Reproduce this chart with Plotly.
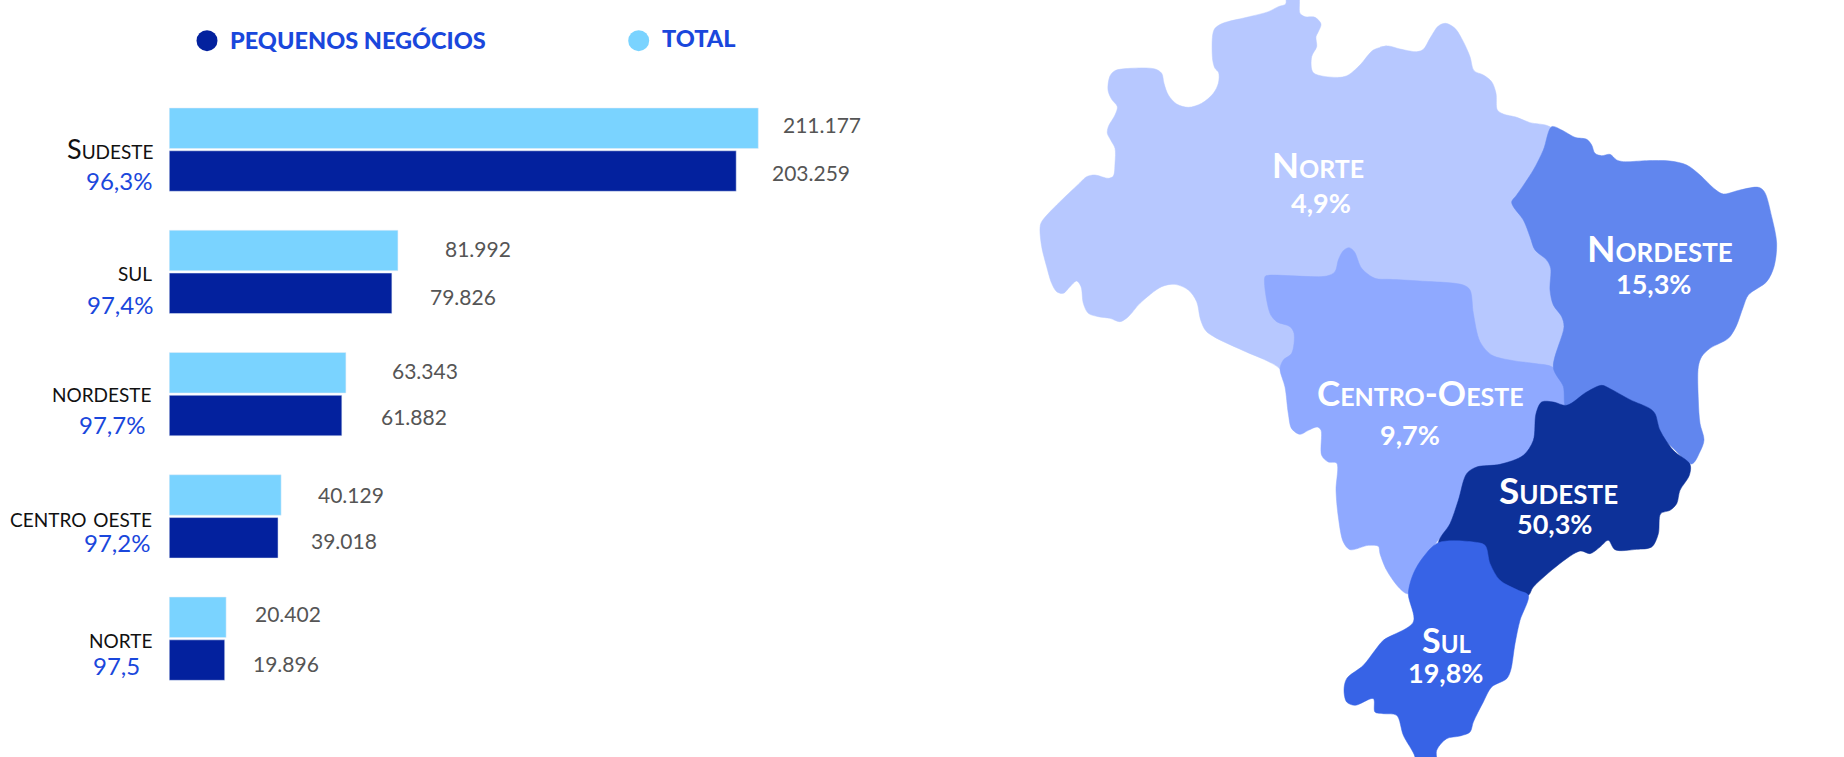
import plotly.graph_objects as go

# ---------- chart data ----------
regions = ["Sudeste", "sul", "nordeste", "centro oeste", "norte"]
total = [211177, 81992, 63343, 40129, 20402]
pequenos = [203259, 79826, 61882, 39018, 19896]
total_text = ["211.177", "81.992", "63.343", "40.129", "20.402"]
pequenos_text = ["203.259", "79.826", "61.882", "39.018", "19.896"]
shares = ["96,3%", "97,4%", "97,7%", "97,2%", "97,5"]

map_names = ["Norte", "Centro-Oeste", "Nordeste", "Sudeste", "Sul"]
map_name_sizes = [35, 35, 37, 37, 34]
map_shares = ["4,9%", "9,7%", "15,3%", "50,3%", "19,8%"]
map_colors = ["#B7C8FF", "#8FA9FF", "#6186EE", "#0D3199", "#3763E6"]

# map outlines, traced in page pixels from crops: (origin_x, origin_y, [crop points at 3x])
norte_outline = [
    (1020, 0, [(800,-12),(797,12),(775,20),(745,35),(680,52),(608,70),(585,85),(578,105),(578,180),(585,205),(596,218),
               (595,250),(580,280),(545,310),(505,322),(470,312),(445,285),(432,250),(425,220),(405,207),(330,205),
               (285,212),(270,228),(264,270),(275,298),(292,320),(285,345),(265,380),(262,400),(272,420),(285,445),
               (285,490),(280,528),(265,535),(225,525),(200,530),(180,548),(65,665),(60,685),(65,740),(80,800),(95,850),
               (110,875),(130,880),(150,860),(170,843),(183,860),(190,910),(205,940),(235,950),(270,955),(300,965),
               (325,950),(360,910),(425,860),(465,853),(505,870),(530,905),(542,960),(560,995),(670,1052),(740,1082),
               (780,1107)]),
    (0, 0, [(3900,1200),(4350,1200),(4710,1170),(4770,750),(4710,450)]),
    (1380, 0, [(510,380),(450,368),(410,352),(370,342),(352,330),(348,280),(335,245),(310,225),(282,212),(270,170),
               (250,125),(225,85),(197,70),(175,78),(150,115),(130,148),(110,155),(60,147),(25,138),(0,142)]),
    (1020, 0, [(1100,138),(1060,150),(1020,195),(985,225),(960,232),(880,218),(875,170),(890,140),(888,110),(895,95),
               (903,72),(885,52),(855,50),(840,40),(835,-12)]),
]
centro_outline = [
    (1020, 0, [(735,830),(745,826),(920,828),(945,815),(955,780),(970,752),(987,743),(1003,755),(1025,805),(1065,835),
               (1110,838),(1200,843)]),
    (1420, 100, [(130,555),(150,570),(160,640),(180,725),(215,765),(280,782),(340,790),(400,803),(430,860),(437,915),(400,1000)]),
    (1240, 377, [(800,300),(590,495),(505,650),(480,635),(440,580),(420,530),(415,508),(385,505),(330,518),(310,495),
                 (295,420),(288,340),(290,258),(265,255),(245,235),(243,160),(232,150),(205,160),(180,172),(155,155),
                 (145,110),(135,30)]),
    (1020, 0, [(780,1107),(790,1080),(815,1060),(822,1000),(810,980),(770,965),(750,940)]),
]
nordeste_outline = [
    (1420, 100, [(395,80),(425,90),(465,112),(500,118),(515,135),(525,160),(545,167),(570,163),(590,180),(610,185),
                 (680,182),(750,183),(800,195),(840,225),(885,268),(910,282),(960,270),(1015,262),(1033,275),(1055,350),
                 (1070,430),(1062,500),(1040,545),(985,585),(970,620),(948,680),(925,715),(870,745),(845,770),(835,800),
                 (835,900),(840,970),(852,1020),(840,1055),(815,1092),(755,1040),(650,950),(545,900),(445,925),(435,915),
                 (430,860),(400,803),(432,680),(425,650),(400,615),(390,570),(392,505),(380,480),(345,450),(330,410),
                 (310,360),(280,320),(275,305),(290,285),(340,210),(370,150)]),
]
sudeste_outline = [
    (1240, 377, [(1085,25),(1110,35),(1170,68),(1230,95),(1245,110),(1260,160),(1300,220),(1350,262),(1348,295),(1320,340),
                 (1310,380),(1290,400),(1262,410),(1255,470),(1235,510),(1190,517),(1125,518),(1105,490),(1080,510),
                 (1050,530),(1020,522),(880,630),(865,655),(760,680),(610,580),(595,497),(630,440),(655,370),(680,290),
                 (710,270),(780,262),(850,235),(880,190),(888,110),(905,75),(940,75),(980,85),(1040,45)]),
]
sul_outline = [
    (1240, 377, [(595,497),(700,495),(735,505),(750,560),(780,610),(835,640),(865,655),(840,730),(825,800),(812,880),
                 (800,905),(755,930),(730,975),(700,1035),(690,1065),(660,1077),(620,1085),(590,1120),(590,1180),
                 (525,1180),(525,1140),(490,1075),(470,1015),(430,1010),(405,1005),(400,965),(345,985),(320,975),(312,940),
                 (320,905),(370,865),(405,820),(430,790),(520,735),(505,650),(520,590),(550,540)]),
]
map_outlines = [norte_outline, centro_outline, nordeste_outline, sudeste_outline, sul_outline]


def page_points(outline):
    xs, ys = [], []
    for ox, oy, pts in outline:
        for cx, cy in pts:
            xs.append(ox + cx / 3)
            ys.append(oy + cy / 3)
    xs.append(xs[0])
    ys.append(ys[0])
    return xs, ys


W, H = 1844, 757
FONT = "Lato"
HEAVY = "Lato Black, Lato"
LIGHT, DARK = "#7AD3FF", "#03219E"
BLUE, GREY = "#1A47DC", "#555555"

fig = go.Figure()
fig.add_bar(y=regions, x=total, orientation="h", marker_color=LIGHT, xaxis="x", yaxis="y", hoverinfo="x+y", name="TOTAL")
fig.add_bar(y=regions, x=pequenos, orientation="h", marker_color=DARK, xaxis="x", yaxis="y", hoverinfo="x+y", name="PEQUENOS NEGÓCIOS")

for name, outline, color in zip(map_names, map_outlines, map_colors):
    xs, ys = page_points(outline)
    fig.add_scatter(x=xs, y=ys, mode="lines", fill="toself", fillcolor=color,
                    line=dict(color=color, width=0.5, shape="spline", smoothing=0.9),
                    xaxis="x2", yaxis="y2", hoverinfo="name", name=name)

fig.add_scatter(x=[207, 638.7], y=[40.7, 40.7], mode="markers",
                marker=dict(size=21, color=[DARK, LIGHT]), xaxis="x2", yaxis="y2", hoverinfo="skip")

ann = []


def note(x, y, text, size, color, anchor="left", weight=None, variant=None, family=FONT):
    f = dict(family=family, size=size, color=color)
    if weight:
        f["weight"] = weight
    if variant:
        f["variant"] = variant
    ann.append(dict(x=x, y=y, xref="x2", yref="y2", text=text, showarrow=False, xanchor=anchor, yanchor="middle",
                    align=anchor, font=f, xshift=0, borderpad=0, borderwidth=0))


note(230, 39.5, "PEQUENOS NEGÓCIOS", 23.5, BLUE, weight=900, family=HEAVY)
note(662, 38, "TOTAL", 23.5, BLUE, weight=900, family=HEAVY)

total_pos = [(783, 124), (444.5, 248), (391.6, 370.6), (317.5, 494), (255, 613)]
peq_pos = [(771.5, 172), (430, 296.5), (381, 416.5), (310.5, 540), (253, 663)]
for (x, y), t in zip(total_pos, total_text):
    note(x, y, t, 21, GREY)
for (x, y), t in zip(peq_pos, pequenos_text):
    note(x, y, t, 21, GREY)

label_pos = [(154, 148), (151.5, 270), (152, 391), (151.5, 516), (151.5, 637)]
share_pos = [(152, 180.7), (152.5, 304.7), (144.7, 424.7), (150, 542), (140, 665.5)]
for (x, y), t in zip(label_pos, regions):
    note(x, y, t, 27, "#111111", anchor="right", variant="small-caps")
for (x, y), t in zip(share_pos, shares):
    note(x, y, t, 24, BLUE, anchor="right")

name_pos = [(1318, 164), (1420, 392), (1660, 247), (1558, 489), (1446, 639)]
share_map_pos = [(1320.7, 202), (1410, 434), (1653, 283.7), (1554, 523), (1445, 672)]
for (x, y), t, s in zip(name_pos, map_names, map_name_sizes):
    note(x, y, t, s, "#FFFFFF", anchor="center", weight=700, variant="small-caps")
for (x, y), t in zip(share_map_pos, map_shares):
    note(x, y, t, 27, "#FFFFFF", anchor="center", weight=700)

PX_PER_UNIT = 589.1 / 211177
AX_LEFT, AX_RIGHT, AX_TOP, AX_BOTTOM = 169.2, 900, 88.5, 699.8

fig.update_layout(
    width=W, height=H, autosize=False,
    margin=dict(l=0, r=0, t=0, b=0),
    paper_bgcolor="white", plot_bgcolor="rgba(0,0,0,0)",
    showlegend=False, barmode="group", bargap=0.3, bargroupgap=0.054,
    xaxis=dict(domain=[AX_LEFT / W, AX_RIGHT / W], range=[0, (AX_RIGHT - AX_LEFT) / PX_PER_UNIT], visible=False, anchor="y"),
    yaxis=dict(domain=[1 - AX_BOTTOM / H, 1 - AX_TOP / H], type="category", categoryorder="array", categoryarray=regions,
               range=[4.5, -0.5], visible=False, anchor="x"),
    xaxis2=dict(domain=[0, 1], range=[0, W], visible=False, anchor="y2"),
    yaxis2=dict(domain=[0, 1], range=[H, 0], visible=False, anchor="x2"),
    annotations=ann,
)
fig.write_html("out.html", config=dict(displayModeBar=False),
               post_script="document.body.style.margin='0';document.body.style.overflow='hidden';")
